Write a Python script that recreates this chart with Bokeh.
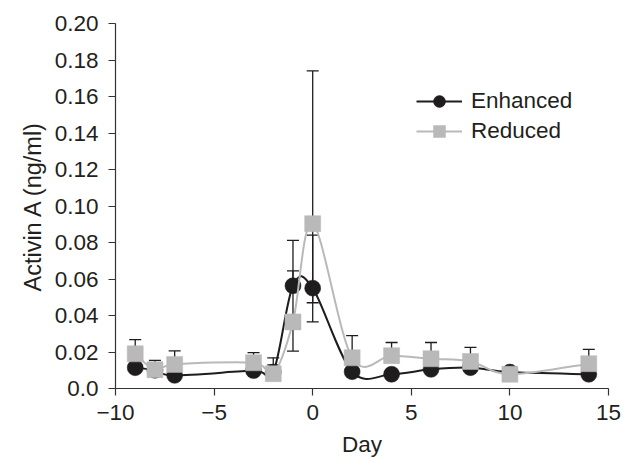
import numpy as np
from bokeh.plotting import figure
from bokeh.models import (ColumnDataSource, Whisker, TeeHead, Legend, LegendItem,
                          FixedTicker, Range1d)
from bokeh.embed import file_html
from bokeh.resources import INLINE

# ---------------- data ----------------
days = [-9, -8, -7, -3, -2, -1, 0, 2, 4, 6, 8, 10, 14]
enhanced = [0.0114, 0.0100, 0.0072, 0.0098, 0.0090, 0.0563, 0.0550,
            0.0092, 0.0078, 0.0105, 0.0114, 0.0090, 0.0078]
reduced = [0.0190, 0.0103, 0.0132, 0.0141, 0.0081, 0.0365, 0.0903,
           0.0168, 0.0180, 0.0163, 0.0148, 0.0078, 0.0136]
# error-bar ends (None = not drawn)
enhanced_upper = [None, None, None, None, 0.0130, 0.0812, 0.0840,
                  None, None, None, None, None, None]
enhanced_lower = [None, None, None, None, None, None, 0.0365,
                  None, None, None, None, None, None]
reduced_upper = [0.0268, 0.0154, 0.0206, 0.0197, 0.0168, 0.0645, 0.1740,
                 0.0290, 0.0252, 0.0252, 0.0225, None, 0.0214]
reduced_lower = [None, None, None, None, None, 0.0205, 0.0470,
                 None, None, None, None, None, None]

x_ticks = [-10, -5, 0, 5, 10, 15]
x_labels = ["\u221210", "\u22125", "0", "5", "10", "15"]
y_ticks = [0.0, 0.02, 0.04, 0.06, 0.08, 0.10, 0.12, 0.14, 0.16, 0.18, 0.20]
y_labels = ["0.0", "0.02", "0.04", "0.06", "0.08", "0.10", "0.12",
            "0.14", "0.16", "0.18", "0.20"]

series_names = ["Enhanced", "Reduced"]
x_title = "Day"
y_title = "Activin A (ng/ml)"

# ---------------- style ----------------
BLACK = "#1e1c1d"
GRAY = "#b9b9b9"
TEXT = "#231f20"
FONT = "Liberation Sans"
FS = "22.5px"

p = figure(width=630, height=459, output_backend="svg", toolbar_location=None,
           x_range=Range1d(-10, 15), y_range=Range1d(0, 0.2),
           min_border_left=115, min_border_right=22, min_border_top=23,
           min_border_bottom=69)
p.outline_line_color = None
p.grid.visible = False
p.background_fill_color = "white"

for ax in (p.xaxis[0], p.yaxis[0]):
    ax.axis_line_color = "#333333"
    ax.axis_line_width = 1.2
    ax.major_tick_line_color = "#333333"
    ax.major_tick_line_width = 1.2
    ax.major_tick_in = 0
    ax.major_tick_out = 7
    ax.minor_tick_line_color = None
    ax.major_label_text_font = FONT
    ax.major_label_text_font_size = FS
    ax.major_label_text_color = TEXT
    ax.axis_label_text_font = FONT
    ax.axis_label_text_font_size = FS
    ax.axis_label_text_font_style = "normal"
    ax.axis_label_text_color = TEXT

p.xaxis.ticker = FixedTicker(ticks=x_ticks)
p.xaxis.major_label_overrides = dict(zip(x_ticks, x_labels))
p.yaxis.ticker = FixedTicker(ticks=y_ticks)
p.yaxis.major_label_overrides = dict(zip(y_ticks, y_labels))
p.xaxis.axis_label = x_title
p.yaxis.axis_label = y_title
p.yaxis.axis_label_text_font_size = "23.5px"
p.xaxis.major_label_standoff = 9
p.yaxis.major_label_standoff = 10
p.xaxis.axis_label_standoff = 9
p.yaxis.axis_label_standoff = 6


def smooth(xs, ys):
    x = np.array(xs, float)
    y = np.array(ys, float)
    n = len(x)
    xp = np.concatenate([[x[0]], x, [x[-1]]])
    yp = np.concatenate([[y[0]], y, [y[-1]]])
    cx0 = x[:-1] + (xp[2:n + 1] - xp[0:n - 1]) / 6
    cy0 = y[:-1] + (yp[2:n + 1] - yp[0:n - 1]) / 6
    cx1 = x[1:] - (xp[3:n + 2] - xp[1:n]) / 6
    cy1 = y[1:] - (yp[3:n + 2] - yp[1:n]) / 6
    return dict(x0=x[:-1], y0=y[:-1], x1=x[1:], y1=y[1:],
                cx0=cx0, cy0=cy0, cx1=cx1, cy1=cy1)


def add_errors(xs, ys, ups, lows):
    ux = [a for a, u in zip(xs, ups) if u is not None]
    uy = [b for b, u in zip(ys, ups) if u is not None]
    uu = [u for u in ups if u is not None]
    if ux:
        src = ColumnDataSource(dict(x=ux, base=uy, upper=uu))
        p.add_layout(Whisker(source=src, base="x", lower="base", upper="upper",
                             line_color=BLACK, line_width=1.3,
                             upper_head=TeeHead(size=12, line_color=BLACK, line_width=1.3),
                             lower_head=None, level="underlay"))
    lx = [a for a, l in zip(xs, lows) if l is not None]
    ly = [b for b, l in zip(ys, lows) if l is not None]
    ll = [l for l in lows if l is not None]
    if lx:
        src = ColumnDataSource(dict(x=lx, base=ly, lower=ll))
        p.add_layout(Whisker(source=src, base="x", lower="lower", upper="base",
                             line_color=BLACK, line_width=1.3,
                             lower_head=TeeHead(size=12, line_color=BLACK, line_width=1.3),
                             upper_head=None, level="underlay"))


add_errors(days, enhanced, enhanced_upper, enhanced_lower)
add_errors(days, reduced, reduced_upper, reduced_lower)

# Enhanced
p.bezier(source=ColumnDataSource(smooth(days, enhanced)), x0="x0", y0="y0",
         x1="x1", y1="y1", cx0="cx0", cy0="cy0", cx1="cx1", cy1="cy1",
         line_color=BLACK, line_width=2)
e_pts = p.scatter(days, enhanced, marker="circle", size=16, fill_color=BLACK,
                  line_color=BLACK, line_width=0.5)
# Reduced
p.bezier(source=ColumnDataSource(smooth(days, reduced)), x0="x0", y0="y0",
         x1="x1", y1="y1", cx0="cx0", cy0="cy0", cx1="cx1", cy1="cy1",
         line_color=GRAY, line_width=2)
r_pts = p.scatter(days, reduced, marker="square", size=16, fill_color=GRAY,
                  line_color=GRAY, line_width=0.5)

# legend proxies (single NaN point: nothing drawn in the plot)
e_line = p.line([np.nan], [np.nan], line_color=BLACK, line_width=2)
r_line = p.line([np.nan], [np.nan], line_color=GRAY, line_width=2)

legend = Legend(items=[LegendItem(label=series_names[0], renderers=[e_line, e_pts]),
                       LegendItem(label=series_names[1], renderers=[r_line, r_pts])],
                location=(301, 242), orientation="vertical",
                glyph_width=46, glyph_height=30, label_standoff=9, spacing=0,
                padding=0, margin=0, border_line_alpha=0,
                background_fill_alpha=0, label_text_font=FONT,
                label_text_font_size=FS, label_text_color=TEXT)
p.add_layout(legend, "center")

open("out.html", "w").write(file_html(p, INLINE))
